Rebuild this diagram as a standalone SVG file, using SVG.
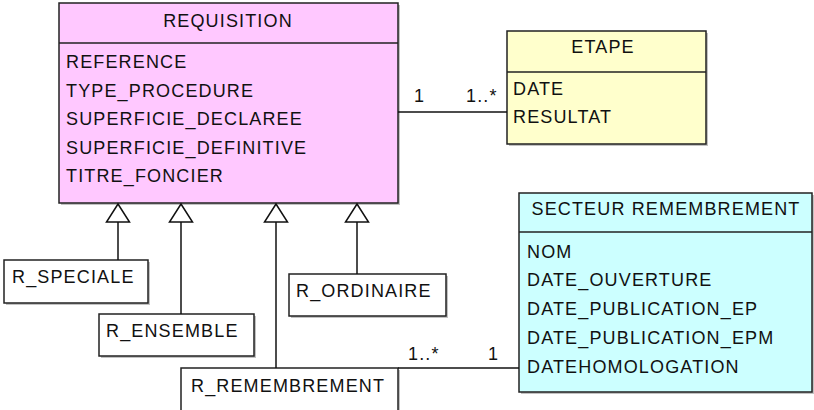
<svg xmlns="http://www.w3.org/2000/svg" width="814" height="410" viewBox="0 0 814 410">
  <style>
    text { font-family: "Liberation Sans", Arial, sans-serif; font-size: 18px; fill: #111; letter-spacing: 1.15px; }
    .box { stroke: #222; stroke-width: 1.5; }
    .shadow { fill: #9a9a9a; opacity: 0.6; }
    .sep { stroke: #222; stroke-width: 1.5; }
    .conn { stroke: #111; stroke-width: 1.5; fill: none; }
    .gen { stroke: #111; stroke-width: 1.5; fill: #fff; }
    .mid { text-anchor: middle; }
  </style>

  <!-- class: REQUISITION -->
  <g id="requisition">
    <rect class="shadow" x="61" y="5" width="339" height="200"/>
    <rect class="box" x="59" y="3" width="339" height="200" fill="#ffc8ff"/>
    <line class="sep" x1="59" y1="43" x2="398" y2="43"/>
    <text class="mid" x="228" y="27">REQUISITION</text>
    <text x="66" y="68">REFERENCE</text>
    <text x="66" y="97">TYPE_PROCEDURE</text>
    <text x="66" y="125">SUPERFICIE_DECLAREE</text>
    <text x="66" y="154">SUPERFICIE_DEFINITIVE</text>
    <text x="66" y="182">TITRE_FONCIER</text>
  </g>

  <!-- class: ETAPE -->
  <g id="etape">
    <rect class="shadow" x="509" y="33" width="199" height="113"/>
    <rect class="box" x="507" y="31" width="199" height="113" fill="#ffffcc"/>
    <line class="sep" x1="507" y1="72" x2="706" y2="72"/>
    <text class="mid" x="603" y="53">ETAPE</text>
    <text x="513" y="95">DATE</text>
    <text x="513" y="123">RESULTAT</text>
  </g>

  <!-- class: SECTEUR REMEMBREMENT -->
  <g id="secteur">
    <rect class="shadow" x="521" y="195" width="294" height="199"/>
    <rect class="box" x="519" y="193" width="293" height="199" fill="#ccffff"/>
    <line class="sep" x1="519" y1="232" x2="812" y2="232"/>
    <text class="mid" x="666" y="215">SECTEUR REMEMBREMENT</text>
    <text x="527" y="258">NOM</text>
    <text x="527" y="286">DATE_OUVERTURE</text>
    <text x="527" y="315">DATE_PUBLICATION_EP</text>
    <text x="527" y="344">DATE_PUBLICATION_EPM</text>
    <text x="527" y="373">DATEHOMOLOGATION</text>
  </g>

  <!-- subclasses -->
  <g id="r_speciale">
    <rect class="shadow" x="6" y="262" width="144" height="43"/>
    <rect class="box" x="4" y="260" width="144" height="43" fill="#fff"/>
    <text x="12" y="283">R_SPECIALE</text>
  </g>
  <g id="r_ensemble">
    <rect class="shadow" x="101" y="316" width="155" height="42"/>
    <rect class="box" x="99" y="314" width="155" height="42" fill="#fff"/>
    <text x="106" y="337">R_ENSEMBLE</text>
  </g>
  <g id="r_ordinaire">
    <rect class="shadow" x="291" y="276" width="157" height="42"/>
    <rect class="box" x="289" y="274" width="157" height="42" fill="#fff"/>
    <text x="296" y="297">R_ORDINAIRE</text>
  </g>
  <g id="r_remembrement">
    <rect class="shadow" x="183" y="370" width="217" height="50"/>
    <rect class="box" x="181" y="368" width="217" height="50" fill="#fff"/>
    <text x="191" y="392">R_REMEMBREMENT</text>
  </g>

  <!-- connectors -->
  <g id="connectors">
    <!-- generalizations to REQUISITION -->
    <line class="conn" x1="118" y1="222" x2="118" y2="260"/>
    <polygon class="gen" points="118,204 106.5,222 129.5,222"/>
    <line class="conn" x1="181" y1="222" x2="181" y2="314"/>
    <polygon class="gen" points="181,204 169.5,222 192.5,222"/>
    <line class="conn" x1="276" y1="222" x2="276" y2="368"/>
    <polygon class="gen" points="276,204 264.5,222 287.5,222"/>
    <line class="conn" x1="357" y1="222" x2="357" y2="274"/>
    <polygon class="gen" points="357,204 345.5,222 368.5,222"/>

    <!-- REQUISITION - ETAPE -->
    <line class="conn" x1="398" y1="112" x2="507" y2="112"/>
    <text x="414" y="102">1</text>
    <text x="466" y="102">1..*</text>

    <!-- R_REMEMBREMENT - SECTEUR REMEMBREMENT -->
    <line class="conn" x1="398" y1="368" x2="519" y2="368"/>
    <text x="408" y="360">1..*</text>
    <text x="488" y="360">1</text>
  </g>
</svg>
